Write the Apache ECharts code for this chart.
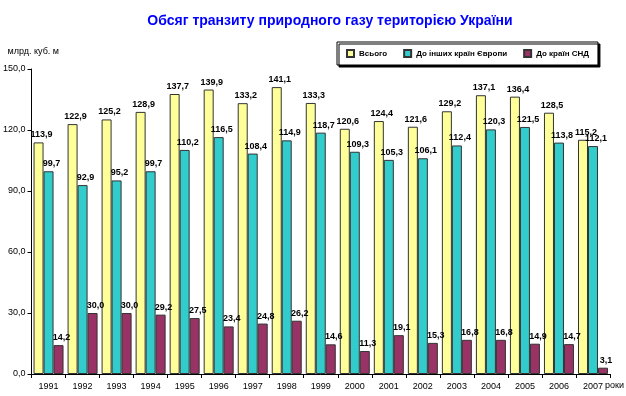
<!DOCTYPE html>
<html>
<head>
<meta charset="utf-8">
<script src="https://cdn.jsdelivr.net/npm/echarts@6/dist/echarts.min.js"></script>
<style>
  html, body { margin: 0; padding: 0; background: #fff; }
  #chart { width: 626px; height: 396px; }
</style>
</head>
<body>
<div id="chart"></div>
<script>
// роки
var years = ['1991', '1992', '1993', '1994', '1995', '1996', '1997', '1998', '1999',
             '2000', '2001', '2002', '2003', '2004', '2005', '2006', '2007'];
// млрд. куб. м
var total = [113.9, 122.9, 125.2, 128.9, 137.7, 139.9, 133.2, 141.1, 133.3,
             120.6, 124.4, 121.6, 129.2, 137.1, 136.4, 128.5, 115.2];
var europe = [99.7, 92.9, 95.2, 99.7, 110.2, 116.5, 108.4, 114.9, 118.7,
              109.3, 105.3, 106.1, 112.4, 120.3, 121.5, 113.8, 112.1];
var cis = [14.2, 30.0, 30.0, 29.2, 27.5, 23.4, 24.8, 26.2, 14.6,
           11.3, 19.1, 15.3, 16.8, 16.8, 14.9, 14.7, 3.1];

var font = 'Arial, "Liberation Sans", sans-serif';

function fmt(v) {
    return Number(v).toFixed(1).replace('.', ',');
}

function barSeries(name, data, color) {
    return {
        name: name,
        type: 'bar',
        data: data,
        barWidth: 10,
        barGap: '0%',
        itemStyle: { color: color, borderColor: '#333', borderWidth: 1 },
        label: {
            show: true,
            position: 'top',
            distance: 3,
            offset: [3, 0],
            formatter: function (p) { return fmt(p.value); },
            color: '#000',
            fontFamily: font,
            fontWeight: 'bold',
            fontSize: 9
        }
    };
}

var chart = echarts.init(document.getElementById('chart'));
var option = {
    animation: false,
    backgroundColor: '#fff',
    title: {
        text: 'Обсяг транзиту природного газу територією України',
        left: 325,
        textAlign: 'center',
        top: 9,
        textStyle: { color: '#0000ff', fontFamily: font, fontWeight: 'bold', fontSize: 14 }
    },
    legend: {
        left: 337,
        top: 42,
        padding: [7, 9, 7, 9],
        itemWidth: 7,
        itemHeight: 7,
        itemGap: 16,
        icon: 'rect',
        backgroundColor: '#fff',
        borderColor: '#000',
        borderWidth: 1,
        shadowColor: 'rgba(0,0,0,1)',
        shadowOffsetX: 2,
        shadowOffsetY: 2,
        shadowBlur: 0,
        textStyle: { color: '#000', fontFamily: font, fontWeight: 'bold', fontSize: 8 },
        data: ['Всього', 'До інших країн Європи', 'До країн СНД']
    },
    grid: { left: 29, right: 16, top: 69, bottom: 22 },
    xAxis: {
        type: 'category',
        data: years,
        axisLine: { lineStyle: { color: '#000', width: 1 } },
        axisTick: { show: true, length: 4, lineStyle: { color: '#000' } },
        axisLabel: { color: '#000', fontFamily: font, fontSize: 9, margin: 8 }
    },
    yAxis: {
        type: 'value',
        min: 0,
        max: 150,
        interval: 30,
        name: 'млрд. куб. м',
        nameLocation: 'end',
        nameGap: 13,
        nameTextStyle: { color: '#000', fontFamily: font, fontSize: 9, align: 'left', padding: [0, 0, 0, -24] },
        splitLine: { show: false },
        axisLine: { show: true, lineStyle: { color: '#000', width: 1 } },
        axisTick: { show: true, length: 4, lineStyle: { color: '#000' } },
        axisLabel: {
            color: '#000', fontFamily: font, fontSize: 9, margin: 6,
            formatter: function (v) { return fmt(v); }
        }
    },
    graphic: [{
        type: 'text',
        left: 605,
        top: 381,
        style: { text: 'роки', fill: '#000', font: '9px ' + font }
    }],
    series: [
        barSeries('Всього', total, '#ffff99'),
        barSeries('До інших країн Європи', europe, '#33cccc'),
        barSeries('До країн СНД', cis, '#993366')
    ]
};
chart.setOption(option);
</script>
</body>
</html>
